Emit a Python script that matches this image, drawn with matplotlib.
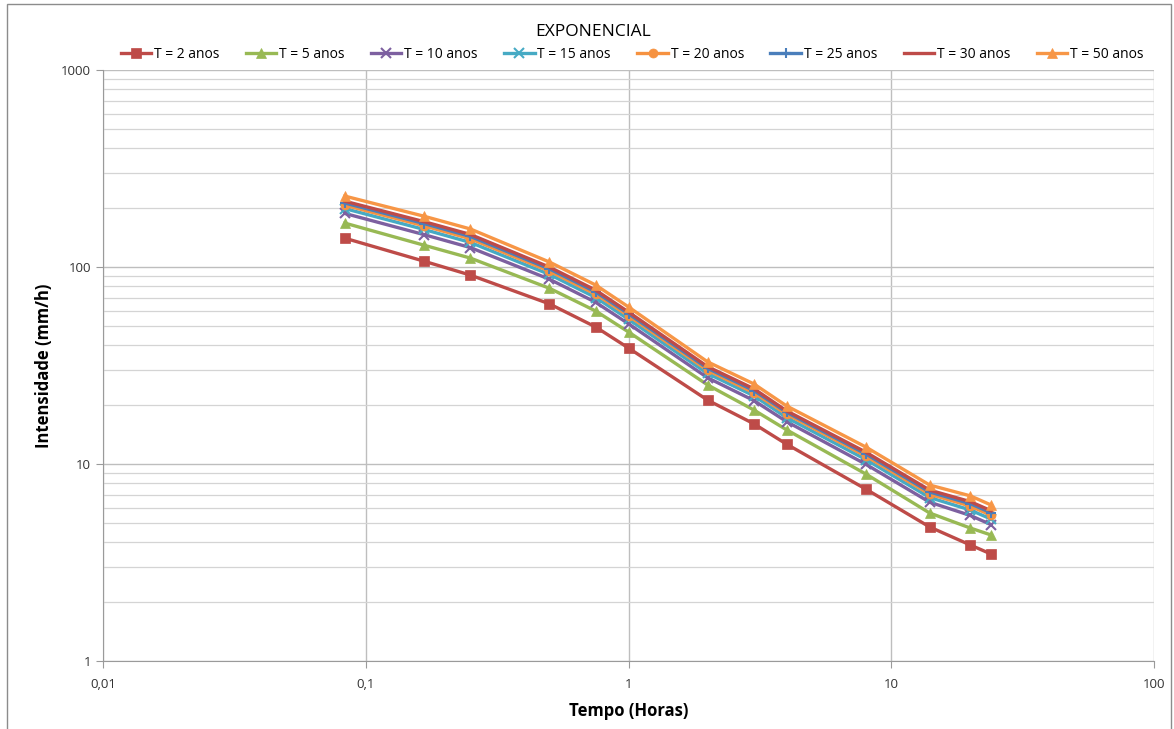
import matplotlib
matplotlib.use("Agg")
import matplotlib.pyplot as plt
from matplotlib.ticker import FixedLocator, FixedFormatter, LogLocator, NullFormatter, NullLocator
from matplotlib.patches import Rectangle

tempo = [0.0833, 0.1667, 0.25, 0.5, 0.75, 1, 2, 3, 4, 8, 14, 20, 24]

t2 = [140, 107, 91, 65, 49.6, 38.8, 21.1, 16.0, 12.6, 7.46, 4.79, 3.88, 3.49]
t5 = [167, 129, 111, 78, 59.8, 46.8, 25.2, 18.8, 14.9, 8.9, 5.64, 4.73, 4.36]
t10 = [187, 146, 125.5, 86.7, 66.2, 51.5, 27.4, 21.0, 16.4, 9.97, 6.40, 5.48, 4.92]
t15 = [197.9, 155.1, 133.3, 91.7, 70.0, 54.3, 28.8, 22.2, 17.2, 10.54, 6.76, 5.84, 5.25]
t20 = [205.9, 161.8, 139.1, 95.3, 72.8, 56.5, 29.9, 23.0, 17.9, 10.97, 7.03, 6.11, 5.49]
t25 = [211.2, 166.2, 143.0, 97.8, 74.7, 57.9, 30.6, 23.6, 18.3, 11.25, 7.21, 6.29, 5.65]
t30 = [215.7, 169.9, 146.3, 99.9, 76.3, 59.1, 31.2, 24.1, 18.6, 11.49, 7.37, 6.44, 5.79]
t50 = [229, 181, 156, 106, 81, 62.7, 33, 25.5, 19.7, 12.2, 7.82, 6.89, 6.19]

labels = ["T = 2 anos", "T = 5 anos", "T = 10 anos", "T = 15 anos",
          "T = 20 anos", "T = 25 anos", "T = 30 anos", "T = 50 anos"]
series = [t2, t5, t10, t15, t20, t25, t30, t50]
colors = ["#BE4B48", "#98B954", "#7D60A0", "#46AAC4", "#F69240", "#4A7EBB", "#BE4B48", "#F79646"]
markers = ["s", "^", "x", "x", "o", "+", "None", "^"]

x_ticks = [0.01, 0.1, 1, 10, 100]
x_ticklabels = ["0,01", "0,1", "1", "10", "100"]
y_ticks = [1, 10, 100, 1000]
y_ticklabels = ["1", "10", "100", "1000"]

plt.rcParams['font.family'] = ['Open Sans', 'DejaVu Sans']

fig = plt.figure(figsize=(11.74, 7.29), dpi=100)
ax = fig.add_axes([103/1174, 1-661/729, (1154-103)/1174, (661-70)/729])

for vals, lab, c, m in zip(series, labels, colors, markers):
    ax.plot(tempo, vals, color=c, lw=2.4, marker=m, markersize=6.5,
            markeredgewidth=1.5 if m in ("x", "+") else 0.5,
            markeredgecolor=c, markerfacecolor=c, label=lab)

ax.set_xscale("log")
ax.set_yscale("log")
ax.set_xlim(0.01, 100)
ax.set_ylim(1, 1000)

ax.xaxis.set_major_locator(FixedLocator(x_ticks))
ax.xaxis.set_major_formatter(FixedFormatter(x_ticklabels))
ax.xaxis.set_minor_locator(NullLocator())
ax.yaxis.set_major_locator(FixedLocator(y_ticks))
ax.yaxis.set_major_formatter(FixedFormatter(y_ticklabels))
ax.yaxis.set_minor_locator(LogLocator(base=10, subs=range(2, 10)))
ax.yaxis.set_minor_formatter(NullFormatter())

ax.grid(True, which="major", axis="both", color="#BEBEBE", lw=1.0)
ax.grid(True, which="minor", axis="y", color="#D4D4D4", lw=0.9)
ax.set_axisbelow(True)

for s in ("top", "right"):
    ax.spines[s].set_visible(False)
for s in ("left", "bottom"):
    ax.spines[s].set_color("#9A9A9A")
ax.tick_params(axis="both", which="major", length=5, color="#9A9A9A",
               labelsize=9.5, labelcolor="#333333")
ax.tick_params(axis="y", which="minor", length=0)
ax.tick_params(axis="x", which="major", pad=7)

ax.set_xlabel("Tempo (Horas)", fontsize=12, fontweight="bold", labelpad=8)
ax.set_ylabel("Intensidade (mm/h)", fontsize=12, fontweight="bold", labelpad=6)

fig.text(593/1174, 1-32/729, "EXPONENCIAL", ha="center", va="center", fontsize=12.5)
fig.legend(loc="center", bbox_to_anchor=(632/1174, 1-54/729), ncol=8, frameon=False,
           fontsize=10, handlelength=2.2, handletextpad=0.2, columnspacing=1.9,
           borderaxespad=0)

fig.patches.append(Rectangle((7/1174, -0.01), (1171-7)/1174, 1-4/729 + 0.01,
                             transform=fig.transFigure, fill=False,
                             edgecolor="#8C8C8C", lw=1.0))

fig.savefig("out.png", dpi=100)
